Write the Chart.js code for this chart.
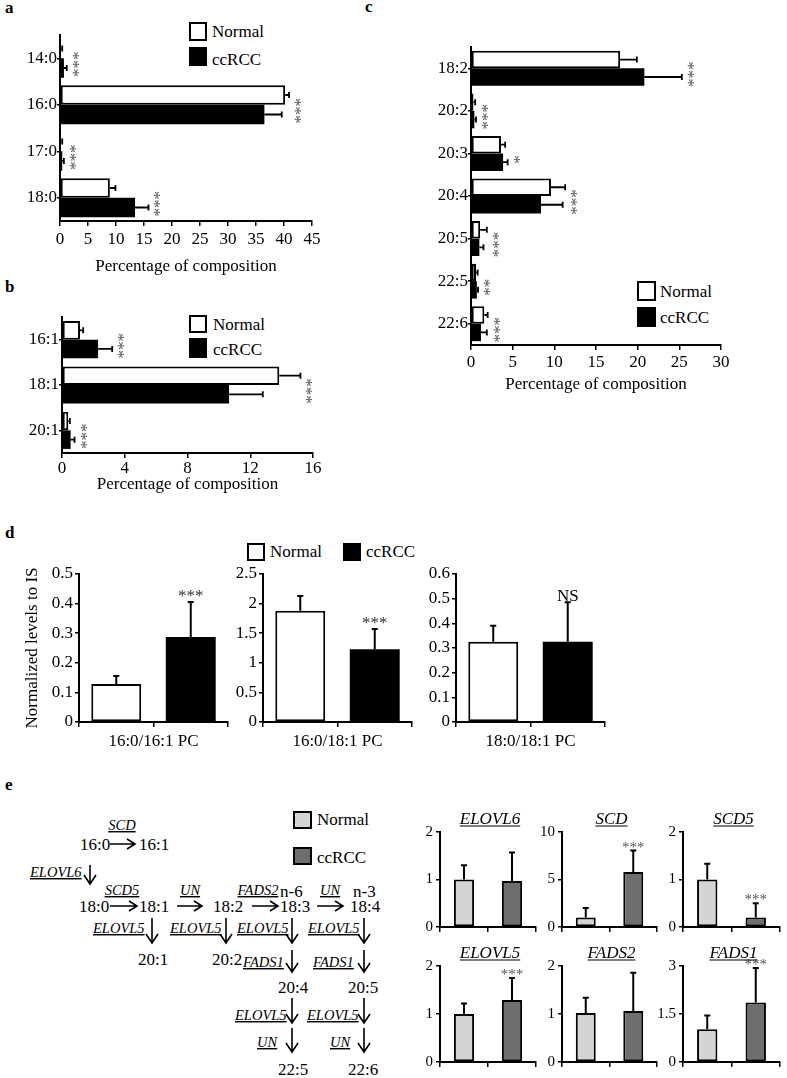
<!DOCTYPE html>
<html>
<head>
<meta charset="utf-8">
<script src="https://cdn.jsdelivr.net/npm/chart.js@4.4.1/dist/chart.umd.min.js"></script>
<style>
body { margin: 0; background: #fff; }
#fig { position: relative; width: 787px; height: 1078px; overflow: hidden; }
#fig canvas { position: absolute; }
#art { position: absolute; left: 0; top: 0; }
</style>
</head>
<body>
<div id="fig"><svg id="art" width="787" height="1078" xmlns="http://www.w3.org/2000/svg"></svg></div>
<script>
/* ---- panel a : saturated FA ---- */
var catsA     = ['14:0', '16:0', '17:0', '18:0'];
var normalA   = [0.2, 40.2, 0.2, 8.9];
var normalSdA = [0.2, 0.7, 0.2, 1.0];
var ccrccA    = [0.7, 36.5, 0.4, 13.4];
var ccrccSdA  = [0.5, 3.1, 0.3, 2.4];
var starsA    = ['***', '***', '***', '***'];

/* ---- panel b : monounsaturated FA ---- */
var catsB     = ['16:1', '18:1', '20:1'];
var normalB   = [1.15, 13.85, 0.4];
var normalSdB = [0.2, 1.35, 0.1];
var ccrccB    = [2.3, 10.65, 0.55];
var ccrccSdB  = [0.9, 2.15, 0.25];
var starsB    = ['***', '***', '***'];

/* ---- panel c : polyunsaturated FA ---- */
var catsC     = ['18:2', '20:2', '20:3', '20:4', '20:5', '22:5', '22:6'];
var normalC   = [17.9, 0.3, 3.6, 9.6, 1.1, 0.6, 1.6];
var normalSdC = [2.0, 0.2, 0.5, 1.7, 0.8, 0.2, 0.4];
var ccrccC    = [20.8, 0.4, 3.85, 8.4, 1.0, 0.7, 1.2];
var ccrccSdC  = [4.5, 0.2, 0.55, 2.6, 0.5, 0.15, 0.7];
var starsC    = ['***', '***', '*', '***', '***', '**', '***'];

/* ---- panel d : PC ratios ---- */
var catsD     = ['16:0/16:1 PC', '16:0/18:1 PC', '18:0/18:1 PC'];
var normalD   = [0.128, 1.88, 0.325];
var normalSdD = [0.027, 0.25, 0.065];
var ccrccD    = [0.287, 1.23, 0.325];
var ccrccSdD  = [0.118, 0.34, 0.16];
var starsD    = ['***', '***', 'NS'];
var maxD      = [0.5, 2.5, 0.6];
var stepD     = [0.1, 0.5, 0.1];

/* ---- panel e : gene expression ---- */
var genesE    = ['ELOVL6', 'SCD', 'SCD5', 'ELOVL5', 'FADS2', 'FADS1'];
var normalE   = [1.0, 1.0, 1.0, 1.0, 1.02, 1.02];
var normalSdE = [0.3, 1.0, 0.33, 0.22, 0.32, 0.43];
var ccrccE    = [0.97, 5.8, 0.2, 1.29, 1.06, 1.86];
var ccrccSdE  = [0.6, 2.25, 0.3, 0.46, 0.8, 1.08];
var starsE    = ['', '***', '***', '***', '', '***'];
var maxE      = [2, 10, 2, 2, 2, 3];
var stepE     = [1, 5, 1, 1, 1, 1.5];

var FONT = "'Liberation Serif', 'Times New Roman', serif";
Chart.defaults.font.family = FONT;
Chart.defaults.color = '#000';

function fmtTick(v) { return String(+Number(v).toFixed(3)); }

/* ---- plugins ---- */
var errBars = {
    id: 'errBars',
    afterDatasetsDraw: function(chart, args, o) {
        var ctx = chart.ctx, horiz = chart.options.indexAxis === 'y';
        var vs = horiz ? chart.scales.x : chart.scales.y;
        ctx.save();
        ctx.strokeStyle = '#000'; ctx.lineWidth = o.width || 2;
        chart.data.datasets.forEach(function(ds, di) {
            chart.getDatasetMeta(di).data.forEach(function(bar, i) {
                var p0 = vs.getPixelForValue(ds.data[i]);
                var p1 = vs.getPixelForValue(ds.data[i] + ds.sd[i]);
                var c = o.cap || 3;
                ctx.beginPath();
                if (horiz) {
                    ctx.moveTo(p0, bar.y); ctx.lineTo(p1, bar.y);
                    ctx.moveTo(p1, bar.y - c); ctx.lineTo(p1, bar.y + c);
                } else {
                    ctx.moveTo(bar.x, p0); ctx.lineTo(bar.x, p1);
                    ctx.moveTo(bar.x - c, p1); ctx.lineTo(bar.x + c, p1);
                }
                ctx.stroke();
            });
        });
        ctx.restore();
    }
};

var stars = {
    id: 'stars',
    afterDatasetsDraw: function(chart, args, o) {
        if (!o.labels) return;
        var ctx = chart.ctx, horiz = chart.options.indexAxis === 'y';
        var vs = horiz ? chart.scales.x : chart.scales.y;
        ctx.save();
        ctx.fillStyle = o.color; ctx.font = o.font;
        ctx.textAlign = 'center'; ctx.textBaseline = 'alphabetic';
        o.labels.forEach(function(t, i) {
            if (!t) return;
            if (horiz) {
                var top = 0;
                chart.data.datasets.forEach(function(ds) { top = Math.max(top, ds.data[i] + ds.sd[i]); });
                var x = vs.getPixelForValue(top) + o.dx, y = chart.scales.y.getPixelForValue(i) + o.dy;
                ctx.save(); ctx.translate(x, y); ctx.rotate(Math.PI / 2); ctx.fillText(t, 0, 0); ctx.restore();
            } else {
                var ds = chart.data.datasets[0];
                var bar = chart.getDatasetMeta(0).data[i];
                ctx.fillText(t, bar.x, vs.getPixelForValue(ds.data[i] + ds.sd[i]) + o.dy);
            }
        });
        ctx.restore();
    }
};

var geneTitle = {
    id: 'geneTitle',
    afterDraw: function(chart, args, o) {
        if (!o.text) return;
        var ctx = chart.ctx, a = chart.chartArea;
        ctx.save();
        ctx.font = 'italic 17px ' + FONT; ctx.fillStyle = '#000';
        ctx.textAlign = 'center'; ctx.textBaseline = 'alphabetic';
        var x = (a.left + a.right) / 2 + o.dx, y = a.top - o.dy;
        ctx.fillText(o.text, x, y);
        var w = ctx.measureText(o.text).width;
        ctx.fillRect(x - w / 2, y + 2, w, 1);
        ctx.restore();
    }
};

function mount(plot, m) {
    var c = document.createElement('canvas');
    var w = plot.r - plot.l + m.l + m.r, h = plot.b - plot.t + m.t + m.b;
    c.width = w; c.height = h;
    c.style.left = (plot.l - m.l) + 'px'; c.style.top = (plot.t - m.t) + 'px';
    c.style.width = w + 'px'; c.style.height = h + 'px';
    document.getElementById('fig').appendChild(c);
    return c;
}

function axisBase() {
    return {
        grid: { drawOnChartArea: false, color: '#000', lineWidth: 1.5 },
        border: { color: '#000', width: 2 }
    };
}

/* horizontal grouped bars (a, b, c) */
function hChart(plot, m, o) {
    var c = mount(plot, m);
    var x = axisBase(), y = axisBase();
    x.min = 0; x.max = o.xmax;
    x.ticks = { stepSize: o.xstep, font: { size: 17 }, color: '#000', padding: o.tickPad, maxRotation: 0, callback: fmtTick };
    x.grid.tickLength = 5;
    x.title = { display: true, text: 'Percentage of composition', font: { size: 17 }, color: '#000', padding: 0 };
    x.afterFit = function(s) { s.height = m.b; };
    y.ticks = { font: { size: 17 }, color: '#000', padding: 0 };
    y.grid.offset = false; y.grid.tickLength = 3;
    y.afterFit = function(s) { s.width = m.l; };
    new Chart(c, {
        type: 'bar',
        data: {
            labels: o.cats,
            datasets: [
                { label: 'Normal', data: o.normal, sd: o.normalSd, backgroundColor: '#fff', borderColor: '#000', borderWidth: 2, borderSkipped: false },
                { label: 'ccRCC', data: o.ccrcc, sd: o.ccrccSd, backgroundColor: '#000', borderWidth: 0 }
            ]
        },
        options: {
            indexAxis: 'y', responsive: false, animation: false, events: [],
            categoryPercentage: o.catPct, barPercentage: 1,
            layout: { padding: { top: m.t, right: m.r, left: 0, bottom: 0 } },
            plugins: {
                legend: { display: false }, tooltip: { enabled: false },
                errBars: { cap: 3, width: 1.8 },
                stars: { labels: o.stars, font: '17px ' + FONT, color: '#555', dx: 1, dy: 6 }
            },
            scales: { x: x, y: y }
        },
        plugins: [errBars, stars]
    });
}

/* two-bar vertical charts (d, e) */
function vChart(plot, m, o) {
    var c = mount(plot, m);
    var x = axisBase(), y = axisBase();
    x.ticks = { display: false };
    x.grid.tickLength = 5;
    x.title = { display: !!o.xTitle, text: o.xTitle || '', font: { size: 17 }, color: '#000', padding: 0 };
    x.afterFit = function(s) { s.height = m.b; };
    y.min = 0; y.max = o.max;
    y.ticks = { stepSize: o.step, font: { size: o.fs }, color: '#000', padding: o.tp, callback: fmtTick };
    y.grid.tickLength = 4;
    y.title = { display: !!o.yTitle, text: o.yTitle || '', font: { size: 17 }, color: '#000', padding: 0 };
    y.afterFit = function(s) { s.width = m.l - (m.pl || 0); };
    new Chart(c, {
        type: 'bar',
        data: {
            labels: ['Normal', 'ccRCC'],
            datasets: [{ data: [o.n, o.c], sd: [o.ns, o.cs], backgroundColor: o.colors, borderColor: '#000', borderWidth: o.borderW, borderSkipped: false }]
        },
        options: {
            responsive: false, animation: false, events: [],
            categoryPercentage: 1, barPercentage: o.barPct,
            layout: { padding: { top: m.t, right: m.r, left: m.pl || 0, bottom: 0 } },
            plugins: {
                legend: { display: false }, tooltip: { enabled: false },
                errBars: { cap: 3, width: 2 },
                stars: { labels: ['', o.star], font: o.starFont, color: o.starColor, dy: o.starDy },
                geneTitle: { text: o.title, dx: 2, dy: 8.5 }
            },
            scales: { x: x, y: y }
        },
        plugins: [errBars, stars, geneTitle]
    });
}

hChart({ l: 60, r: 312, t: 35, b: 221 }, { l: 60, r: 18, t: 12, b: 56 },
    { cats: catsA, normal: normalA, normalSd: normalSdA, ccrcc: ccrccA, ccrccSd: ccrccSdA, stars: starsA,
      xmax: 45, xstep: 5, tickPad: 3, catPct: 0.84 });
hChart({ l: 62, r: 313, t: 317, b: 453 }, { l: 62, r: 17, t: 12, b: 42 },
    { cats: catsB, normal: normalB, normalSd: normalSdB, ccrcc: ccrccB, ccrccSd: ccrccSdB, stars: starsB,
      xmax: 16, xstep: 4, tickPad: 0, catPct: 0.82 });
hChart({ l: 471, r: 721, t: 47, b: 345 }, { l: 71, r: 19, t: 12, b: 50 },
    { cats: catsC, normal: normalC, normalSd: normalSdC, ccrcc: ccrccC, ccrccSd: ccrccSdC, stars: starsC,
      xmax: 30, xstep: 5, tickPad: 2, catPct: 0.82 });

var plotsD = [{ l: 79, r: 228 }, { l: 263, r: 412 }, { l: 456, r: 605 }];
var marginsD = [{ l: 79, pl: 22, r: 7 }, { l: 31, r: 8 }, { l: 36, r: 10 }];
catsD.forEach(function(cat, i) {
    var p = plotsD[i], mm = marginsD[i];
    vChart({ l: p.l, r: p.r, t: 574, b: 722 }, { l: mm.l, pl: mm.pl, r: mm.r, t: 19, b: 30 },
        { n: normalD[i], ns: normalSdD[i], c: ccrccD[i], cs: ccrccSdD[i], colors: ['#fff', '#000'], borderW: [2, 0],
          max: maxD[i], step: stepD[i], fs: 17, tp: 2, barPct: 0.67, xTitle: cat,
          yTitle: i === 0 ? 'Normalized levels to IS' : '',
          star: starsD[i], starFont: '17px ' + FONT, starColor: i === 2 ? '#000' : '#333', starDy: -1 });
});

var colsE = [{ l: 440, r: 536 }, { l: 562, r: 657 }, { l: 683, r: 780 }];
var rowsE = [{ t: 832, b: 927 }, { t: 966, b: 1062 }];
genesE.forEach(function(g, i) {
    var cc = colsE[i % 3], rr = rowsE[Math.floor(i / 3)];
    vChart({ l: cc.l, r: cc.r, t: rr.t, b: rr.b }, { l: 30, r: 5, t: 27, b: 14 },
        { n: normalE[i], ns: normalSdE[i], c: ccrccE[i], cs: ccrccSdE[i], colors: ['#d4d4d4', '#6e6e6e'], borderW: [2, 2],
          max: maxE[i], step: stepE[i], fs: 15, tp: 3, barPct: 0.42, title: g,
          star: starsE[i], starFont: '15px ' + FONT, starColor: '#555', starDy: 1 });
});

/* ---- static text: panel letters, legends, pathway ---- */
var NS = 'http://www.w3.org/2000/svg';
var svg = document.getElementById('art');
function el(tag, attrs, text) {
    var e = document.createElementNS(NS, tag);
    for (var k in attrs) e.setAttribute(k, attrs[k]);
    if (text != null) e.textContent = text;
    svg.appendChild(e);
    return e;
}
function txt(x, y, s, size, extra) {
    var a = { x: x, y: y, 'font-family': FONT, 'font-size': size, fill: '#000' };
    for (var k in (extra || {})) a[k] = extra[k];
    return el('text', a, s);
}
function gene(x, y, s, anchor) {
    return txt(x, y, s, 14.5, { 'font-style': 'italic', 'text-decoration': 'underline', 'text-anchor': anchor || 'start' });
}
function box(x, y, w, h, fill) {
    el('rect', { x: x + 1, y: y + 1, width: w - 2, height: h - 2, fill: fill, stroke: '#000', 'stroke-width': 2 });
}
function hArrow(x1, x2, y) {
    el('path', { d: 'M' + x1 + ' ' + y + 'H' + x2 + 'M' + (x2 - 8) + ' ' + (y - 5) + 'L' + x2 + ' ' + y + 'L' + (x2 - 8) + ' ' + (y + 5),
                 fill: 'none', stroke: '#000', 'stroke-width': 1.6 });
}
function vArrow(x, y1, y2) {
    el('path', { d: 'M' + x + ' ' + y1 + 'V' + y2 + 'M' + (x - 6) + ' ' + (y2 - 9) + 'L' + x + ' ' + y2 + 'L' + (x + 6) + ' ' + (y2 - 9),
                 fill: 'none', stroke: '#000', 'stroke-width': 1.6 });
}

var bold = { 'font-weight': 'bold' };
txt(5, 13, 'a', 17, bold); txt(5, 292, 'b', 17, bold); txt(365, 12, 'c', 17, bold);
txt(5, 538, 'd', 17, bold); txt(5, 790, 'e', 17, bold);

box(189, 22, 18, 19, '#fff'); txt(212, 37, 'Normal', 17);
box(189, 47, 18, 19, '#000'); txt(212, 65, 'ccRCC', 17);
box(189, 315, 18, 18, '#fff'); txt(213, 330, 'Normal', 17);
box(189, 338, 18, 20, '#000'); txt(213, 355, 'ccRCC', 17);
box(637, 281, 19, 20, '#fff'); txt(660, 297, 'Normal', 17);
box(637, 307, 19, 20, '#000'); txt(660, 323, 'ccRCC', 17);
box(247, 543, 18, 18, '#fff'); txt(270, 557, 'Normal', 17);
box(343, 543, 18, 18, '#000'); txt(366, 557, 'ccRCC', 17);
box(293, 811, 19, 18, '#d4d4d4'); txt(317, 825, 'Normal', 17);
box(293, 847, 19, 18, '#6e6e6e'); txt(317, 863, 'ccRCC', 17);

/* pathway */
gene(122, 830, 'SCD', 'middle');
txt(80, 850, '16:0', 17); hArrow(110, 135, 844); txt(139, 850, '16:1', 17);
gene(30, 877, 'ELOVL6'); vArrow(90, 865, 884);
gene(122, 895, 'SCD5', 'middle'); gene(190, 895, 'UN', 'middle'); gene(258, 895, 'FADS2', 'middle');
txt(280, 897, 'n-6', 17); gene(330, 895, 'UN', 'middle'); txt(353, 897, 'n-3', 17);
txt(79, 912, '18:0', 17); hArrow(110, 137, 906); txt(139, 912, '18:1', 17);
hArrow(177, 202, 906); txt(213, 912, '18:2', 17);
hArrow(252, 278, 906); txt(280, 912, '18:3', 17);
hArrow(317, 343, 906); txt(350, 912, '18:4', 17);
gene(93, 933, 'ELOVL5'); vArrow(152, 918, 943);
gene(170, 933, 'ELOVL5'); vArrow(226, 918, 943);
gene(237, 933, 'ELOVL5'); vArrow(292, 918, 943);
gene(308, 933, 'ELOVL5'); vArrow(364, 918, 943);
txt(138, 965, '20:1', 17); txt(212, 965, '20:2', 17);
gene(243, 967, 'FADS1'); vArrow(292, 950, 972);
gene(313, 967, 'FADS1'); vArrow(364, 950, 972);
txt(278, 993, '20:4', 17); txt(348, 993, '20:5', 17);
gene(235, 1020, 'ELOVL5'); vArrow(292, 998, 1023);
gene(307, 1020, 'ELOVL5'); vArrow(364, 998, 1023);
gene(257, 1047, 'UN'); vArrow(292, 1028, 1052);
gene(330, 1047, 'UN'); vArrow(364, 1028, 1052);
txt(278, 1075, '22:5', 17); txt(348, 1075, '22:6', 17);
</script>
</body>
</html>
